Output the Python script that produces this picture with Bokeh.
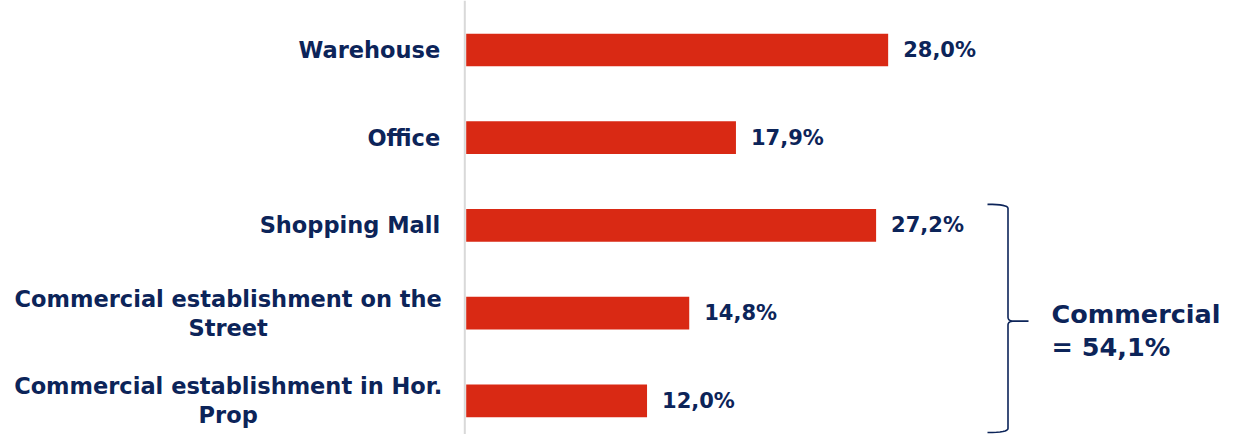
from bokeh.plotting import figure
from bokeh.models import Range1d, Span, ColumnDataSource
from bokeh.core.properties import value
from bokeh.embed import file_html
from bokeh.resources import INLINE

# ---- data ----
categories = ["Warehouse", "Office", "Shopping Mall",
              "Commercial establishment on the\nStreet",
              "Commercial establishment in Hor.\nProp"]
shares = [28.0, 17.9, 27.2, 14.8, 12.0]
share_labels = ["28,0%", "17,9%", "27,2%", "14,8%", "12,0%"]
group_name = "Commercial"
group_total = "= 54,1%"
group_members = [2, 3, 4]

# ---- style / layout ----
NAVY = "#0c2459"
RED = "#d92914"
FONT = value("DejaVu Sans")
W, H = 1228, 434
X0 = 465.7      # pixel of 0 %
PXPER = 15.07   # pixels per percent
Y0 = 49.5       # pixel of first row centre
PYPER = 87.7    # pixels per row

p = figure(width=W, height=H, output_backend="svg", toolbar_location=None,
           x_range=Range1d(-X0 / PXPER, (W - X0) / PXPER),
           y_range=Range1d((H - Y0) / PYPER, -Y0 / PYPER),
           min_border=0, x_axis_location=None, y_axis_location=None)
p.outline_line_color = None
p.xgrid.visible = False
p.ygrid.visible = False
p.background_fill_color = "white"
p.border_fill_color = "white"


def px2x(px):
    return (px - X0) / PXPER


def py2y(py):
    return (py - Y0) / PYPER


idx = list(range(len(categories)))
src = ColumnDataSource(dict(y=idx, share=shares, lab=share_labels, cat=categories))

p.add_layout(Span(location=px2x(464.3), dimension="height", line_color="#d9d9d9",
                  line_width=2, level="underlay"))

p.hbar(y="y", left=0, right="share", height=0.373, source=src,
       fill_color=RED, line_color=None)

p.text(x="share", y="y", text="lab", source=src, x_offset=15,
       text_align="left", text_baseline="middle", text_font=FONT,
       text_font_style="bold", text_font_size="21px", text_color=NAVY)

single = ColumnDataSource(dict(
    y=[i for i in idx if "\n" not in categories[i]],
    t=[c for c in categories if "\n" not in c]))
multi = ColumnDataSource(dict(
    y=[i for i in idx if "\n" in categories[i]],
    t=[c for c in categories if "\n" in c]))
p.text(x=0, y="y", text="t", source=single, x_offset=-26,
       text_align="right", text_baseline="middle", text_font=FONT,
       text_font_style="bold", text_font_size="22.5px", text_color=NAVY)
p.text(x=0, y="y", text="t", source=multi, x_offset=-238,
       text_align="center", text_baseline="middle", text_font=FONT,
       text_font_style="bold", text_font_size="22.5px", text_color=NAVY,
       text_line_height=1.12)

# ---- brace around the commercial group ----
top_px = Y0 + (group_members[0] - 0.24) * PYPER
bot_px = min(H - 2, Y0 + (group_members[-1] + 0.44) * PYPER)
mid_px = Y0 + (group_members[0] + group_members[-1]) / 2 * PYPER + 8
end_x, spine_x, tip_x = 987.0, 1007.5, 1028.0
r = 4.0


def quad(a, c, b, n=8):
    pts = []
    for k in range(n + 1):
        t = k / n
        pts.append(((1 - t) ** 2 * a[0] + 2 * (1 - t) * t * c[0] + t ** 2 * b[0],
                    (1 - t) ** 2 * a[1] + 2 * (1 - t) * t * c[1] + t ** 2 * b[1]))
    return pts


path = []
path += quad((end_x, top_px), (spine_x, top_px), (spine_x, top_px + r))
path += quad((spine_x, mid_px - r), (spine_x, mid_px), (spine_x + 6, mid_px))
path += [(tip_x, mid_px)]
path += quad((spine_x + 6, mid_px), (spine_x, mid_px), (spine_x, mid_px + r))
path += quad((spine_x, bot_px - r), (spine_x, bot_px), (end_x, bot_px))
p.line([px2x(a) for a, b in path], [py2y(b) for a, b in path],
       line_color=NAVY, line_width=1.6)

p.text(x=px2x(tip_x), y=py2y(mid_px), text=[group_name], x_offset=23, y_offset=-7,
       text_align="left", text_baseline="alphabetic", text_font=FONT,
       text_font_style="bold", text_font_size="25.5px", text_color=NAVY)
p.text(x=px2x(tip_x), y=py2y(mid_px), text=[group_total], x_offset=23, y_offset=26,
       text_align="left", text_baseline="alphabetic", text_font=FONT,
       text_font_style="bold", text_font_size="25.5px", text_color=NAVY)

open("out.html", "w").write(file_html(p, INLINE))
